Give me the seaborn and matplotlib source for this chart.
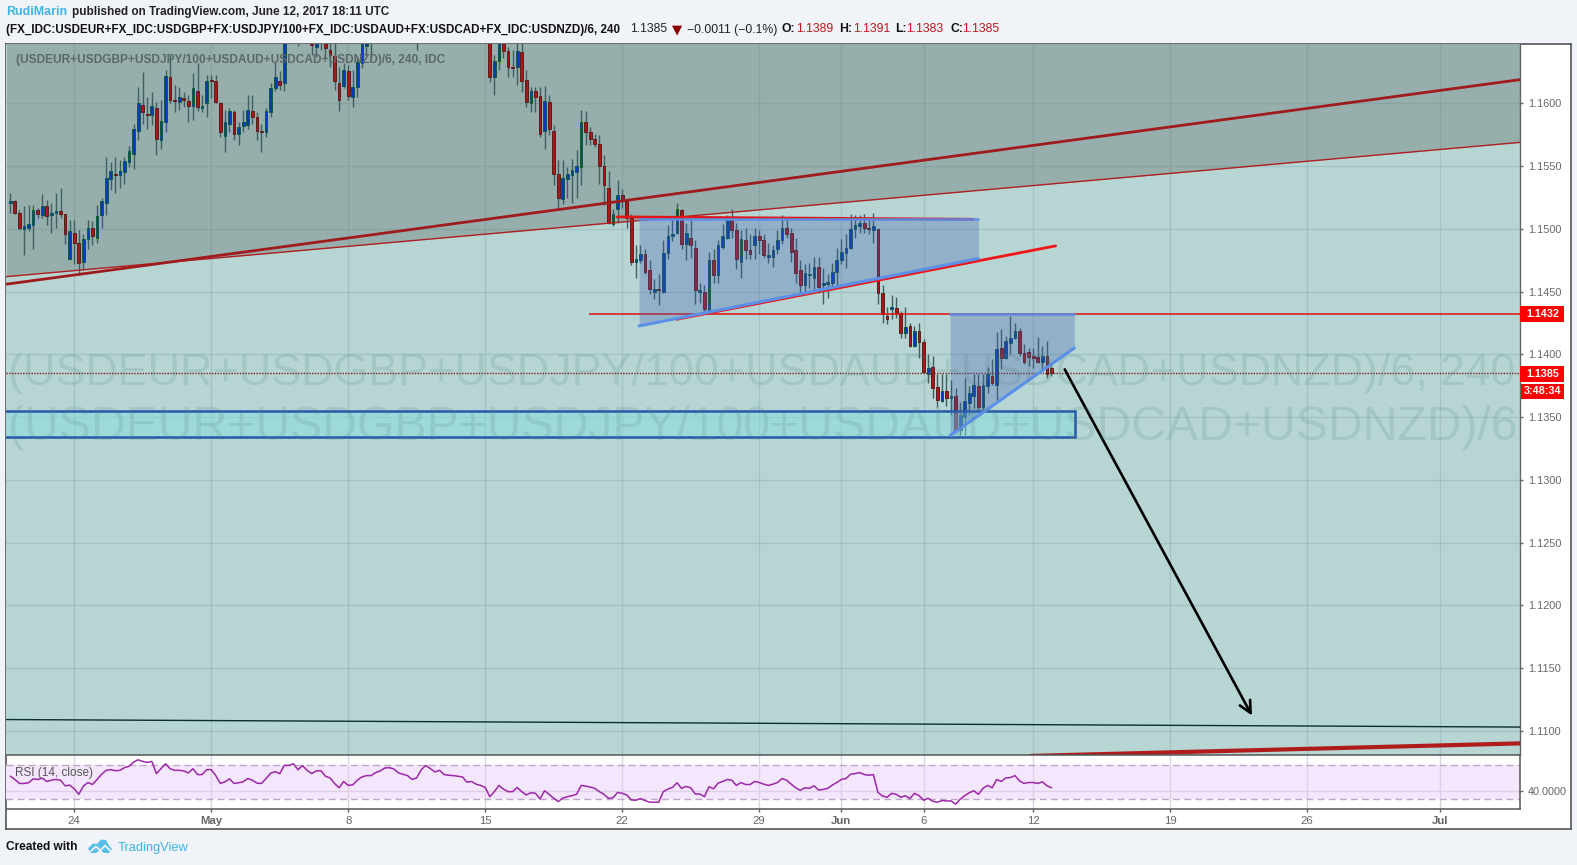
import numpy as np
import pandas as pd
import matplotlib
matplotlib.use("Agg")
import matplotlib.pyplot as plt
import seaborn as sns
from matplotlib.patches import Polygon, Rectangle

W, H = 1577, 865

# candles, 4h bars (bars 61-105 run above the top of the chart)
opens = [
    1.1521,1.1522,1.1513,1.1500,1.1501,1.1503,1.1515,1.1511,1.1518,1.1511,
    1.1513,1.1514,1.1512,1.1476,1.1497,1.1489,1.1474,1.1492,1.1501,1.1493,
    1.1511,1.1521,1.1540,1.1544,1.1543,1.1545,1.1553,1.1560,1.1578,1.1599,
    1.1592,1.1591,1.1596,1.1571,1.1585,1.1621,1.1603,1.1601,1.1604,1.1602,
    1.1598,1.1610,1.1596,1.1600,1.1619,1.1618,1.1600,1.1574,1.1584,1.1593,
    1.1576,1.1582,1.1583,1.1594,1.1589,1.1578,1.1577,1.1593,1.1612,1.1618,
    1.1616,1.1650,1.1665,1.1655,1.1662,1.1666,1.1660,1.1645,1.1655,1.1654,
    1.1643,1.1638,1.1616,1.1614,1.1626,1.1605,1.1613,1.1632,1.1646,1.1655,
    1.1650,1.1662,1.1670,1.1666,1.1674,1.1680,1.1676,1.1684,1.1678,1.1668,
    1.1660,1.1668,1.1676,1.1682,1.1678,1.1686,1.1692,1.1688,1.1684,1.1690,
    1.1686,1.1680,1.1684,1.1676,1.1670,1.1665,1.1621,1.1634,1.1655,1.1642,
    1.1629,1.1629,1.1641,1.1619,1.1600,1.1610,1.1606,1.1578,1.1601,1.1578,
    1.1544,1.1524,1.1540,1.1543,1.1545,1.1549,1.1585,1.1577,1.1572,1.1568,
    1.1550,1.1533,1.1504,1.1516,1.1527,1.1522,1.1509,1.1474,1.1475,1.1480,
    1.1467,1.1450,1.1452,1.1450,1.1481,1.1494,1.1497,1.1515,1.1488,1.1493,
    1.1485,1.1450,1.1450,1.1435,1.1475,1.1463,1.1486,1.1493,1.1507,1.1499,
    1.1474,1.1491,1.1483,1.1487,1.1494,1.1491,1.1478,1.1478,1.1484,1.1491,
    1.1501,1.1497,1.1483,1.1467,1.1455,1.1463,1.1461,1.1470,1.1455,1.1456,
    1.1457,1.1466,1.1475,1.1481,1.1485,1.1500,1.1502,1.1505,1.1501,1.1499,
    1.1500,1.1449,1.1431,1.1436,1.1437,1.1433,1.1417,1.1423,1.1407,1.1419,
    1.1410,1.1384,1.1390,1.1374,1.1363,1.1371,1.1365,1.1367,1.1340,1.1350,
    1.1361,1.1367,1.1375,1.1358,1.1375,1.1383,1.1376,1.1405,1.1397,1.1409,
    1.1413,1.1419,1.1401,1.1402,1.1399,1.1398,1.1394,1.1399,1.1389,
]
highs = [
    1.1529,1.1523,1.1515,1.1518,1.1519,1.1519,1.1517,1.1528,1.1523,1.1521,
    1.1529,1.1533,1.1512,1.1507,1.1507,1.1499,1.1496,1.1507,1.1506,1.1519,
    1.1525,1.1557,1.1553,1.1557,1.1555,1.1557,1.1566,1.1584,1.1613,1.1625,
    1.1605,1.1609,1.1601,1.1603,1.1627,1.1639,1.1615,1.1613,1.1609,1.1607,
    1.1624,1.1632,1.1607,1.1623,1.1623,1.1623,1.1601,1.1595,1.1596,1.1595,
    1.1585,1.1595,1.1607,1.1607,1.1593,1.1584,1.1596,1.1616,1.1633,1.1626,
    1.1660,1.1672,1.1672,1.1665,1.1670,1.1670,1.1665,1.1660,1.1660,1.1660,
    1.1650,1.1652,1.1629,1.1632,1.1631,1.1627,1.1637,1.1660,1.1660,1.1665,
    1.1668,1.1676,1.1678,1.1682,1.1688,1.1690,1.1692,1.1694,1.1688,1.1680,
    1.1674,1.1682,1.1688,1.1690,1.1692,1.1698,1.1700,1.1696,1.1698,1.1702,
    1.1694,1.1690,1.1688,1.1680,1.1675,1.1670,1.1639,1.1660,1.1660,1.1645,
    1.1643,1.1650,1.1648,1.1627,1.1613,1.1613,1.1613,1.1614,1.1607,1.1583,
    1.1555,1.1555,1.1549,1.1556,1.1563,1.1595,1.1594,1.1581,1.1576,1.1575,
    1.1559,1.1546,1.1516,1.1539,1.1532,1.1523,1.1512,1.1487,1.1487,1.1484,
    1.1475,1.1460,1.1464,1.1491,1.1503,1.1509,1.1521,1.1516,1.1505,1.1509,
    1.1491,1.1457,1.1455,1.1482,1.1484,1.1491,1.1504,1.1511,1.1516,1.1505,
    1.1499,1.1501,1.1496,1.1501,1.1499,1.1496,1.1489,1.1487,1.1499,1.1511,
    1.1508,1.1501,1.1493,1.1475,1.1472,1.1473,1.1478,1.1478,1.1469,1.1464,
    1.1473,1.1485,1.1492,1.1496,1.1512,1.1511,1.1511,1.1512,1.1508,1.1513,
    1.1501,1.1455,1.1438,1.1447,1.1446,1.1435,1.1438,1.1425,1.1423,1.1425,
    1.1412,1.1400,1.1399,1.1384,1.1384,1.1384,1.1380,1.1373,1.1362,1.1381,
    1.1375,1.1384,1.1384,1.1384,1.1390,1.1396,1.1418,1.1420,1.1415,1.1431,
    1.1425,1.1421,1.1408,1.1405,1.1405,1.1414,1.1407,1.1411,1.1391,
]
lows = [
    1.1513,1.1512,1.1499,1.1479,1.1498,1.1484,1.1509,1.1509,1.1503,1.1497,
    1.1501,1.1509,1.1488,1.1475,1.1472,1.1464,1.1467,1.1484,1.1487,1.1489,
    1.1501,1.1511,1.1531,1.1529,1.1533,1.1536,1.1549,1.1548,1.1571,1.1584,
    1.1580,1.1583,1.1559,1.1564,1.1577,1.1600,1.1593,1.1595,1.1597,1.1585,
    1.1587,1.1594,1.1593,1.1589,1.1604,1.1600,1.1573,1.1561,1.1577,1.1571,
    1.1567,1.1577,1.1580,1.1584,1.1571,1.1561,1.1573,1.1589,1.1610,1.1611,
    1.1610,1.1650,1.1652,1.1646,1.1655,1.1652,1.1639,1.1637,1.1643,1.1636,
    1.1629,1.1611,1.1594,1.1612,1.1603,1.1597,1.1605,1.1628,1.1639,1.1636,
    1.1649,1.1658,1.1660,1.1662,1.1670,1.1672,1.1670,1.1674,1.1664,1.1643,
    1.1654,1.1662,1.1670,1.1674,1.1672,1.1680,1.1684,1.1680,1.1678,1.1682,
    1.1672,1.1672,1.1668,1.1660,1.1658,1.1617,1.1607,1.1627,1.1636,1.1621,
    1.1621,1.1615,1.1609,1.1597,1.1593,1.1593,1.1573,1.1564,1.1575,1.1535,
    1.1517,1.1520,1.1525,1.1521,1.1525,1.1535,1.1567,1.1567,1.1565,1.1536,
    1.1519,1.1504,1.1502,1.1505,1.1517,1.1501,1.1471,1.1461,1.1473,1.1464,
    1.1448,1.1444,1.1439,1.1449,1.1476,1.1490,1.1496,1.1484,1.1475,1.1477,
    1.1440,1.1441,1.1434,1.1434,1.1457,1.1457,1.1484,1.1492,1.1493,1.1468,
    1.1461,1.1476,1.1476,1.1476,1.1480,1.1477,1.1473,1.1470,1.1480,1.1488,
    1.1493,1.1474,1.1457,1.1448,1.1449,1.1453,1.1451,1.1449,1.1440,1.1445,
    1.1453,1.1453,1.1472,1.1469,1.1484,1.1493,1.1497,1.1497,1.1496,1.1489,
    1.1440,1.1425,1.1424,1.1428,1.1429,1.1413,1.1413,1.1406,1.1406,1.1397,
    1.1385,1.1377,1.1365,1.1358,1.1362,1.1359,1.1352,1.1337,1.1336,1.1336,
    1.1352,1.1357,1.1356,1.1353,1.1369,1.1376,1.1364,1.1388,1.1396,1.1400,
    1.1412,1.1399,1.1392,1.1391,1.1389,1.1393,1.1387,1.1381,1.1383,
]
closes = [
    1.1522,1.1513,1.1501,1.1502,1.1504,1.1515,1.1512,1.1518,1.1510,1.1513,
    1.1514,1.1512,1.1496,1.1498,1.1489,1.1473,1.1492,1.1501,1.1494,1.1510,
    1.1522,1.1541,1.1546,1.1543,1.1546,1.1554,1.1562,1.1580,1.1600,1.1593,
    1.1591,1.1598,1.1572,1.1586,1.1622,1.1603,1.1602,1.1605,1.1603,1.1598,
    1.1612,1.1597,1.1598,1.1618,1.1618,1.1601,1.1577,1.1585,1.1594,1.1576,
    1.1581,1.1585,1.1595,1.1589,1.1578,1.1577,1.1594,1.1612,1.1621,1.1615,
    1.1650,1.1665,1.1660,1.1662,1.1666,1.1660,1.1647,1.1652,1.1650,1.1644,
    1.1639,1.1618,1.1603,1.1627,1.1606,1.1613,1.1633,1.1650,1.1652,1.1650,
    1.1662,1.1670,1.1666,1.1674,1.1680,1.1676,1.1684,1.1678,1.1668,1.1660,
    1.1668,1.1676,1.1682,1.1678,1.1686,1.1692,1.1688,1.1684,1.1690,1.1686,
    1.1680,1.1684,1.1676,1.1670,1.1665,1.1621,1.1634,1.1655,1.1642,1.1629,
    1.1628,1.1642,1.1618,1.1601,1.1610,1.1605,1.1576,1.1602,1.1580,1.1544,
    1.1525,1.1541,1.1544,1.1547,1.1550,1.1585,1.1577,1.1572,1.1568,1.1550,
    1.1535,1.1505,1.1512,1.1527,1.1524,1.1509,1.1474,1.1476,1.1480,1.1466,
    1.1452,1.1452,1.1451,1.1481,1.1494,1.1496,1.1516,1.1488,1.1497,1.1487,
    1.1451,1.1451,1.1436,1.1475,1.1463,1.1487,1.1494,1.1507,1.1499,1.1476,
    1.1492,1.1483,1.1480,1.1494,1.1491,1.1479,1.1479,1.1483,1.1491,1.1501,
    1.1496,1.1482,1.1465,1.1455,1.1465,1.1464,1.1470,1.1454,1.1457,1.1458,
    1.1466,1.1475,1.1482,1.1485,1.1500,1.1503,1.1505,1.1501,1.1500,1.1502,
    1.1449,1.1432,1.1428,1.1438,1.1433,1.1417,1.1422,1.1407,1.1419,1.1410,
    1.1386,1.1389,1.1373,1.1364,1.1371,1.1365,1.1367,1.1339,1.1352,1.1363,
    1.1369,1.1376,1.1358,1.1376,1.1384,1.1377,1.1404,1.1397,1.1411,1.1413,
    1.1419,1.1401,1.1394,1.1398,1.1397,1.1394,1.1399,1.1384,1.1385,
]

rsi_values = [
    56.7,52.9,48.3,48.3,49.1,53.6,52.9,54.4,50.6,52.1,52.9,52.1,45.6,46.4,42.2,35.7,45.2,49.4,47.1,52.9,
    59.0,63.5,64.3,63.1,63.5,66.6,68.1,73.0,75.7,73.8,72.7,73.8,59.7,65.4,71.1,65.4,63.5,63.5,62.8,60.5,
    65.4,58.6,58.6,64.3,64.3,57.4,48.3,50.2,53.6,48.3,49.1,50.2,54.0,52.1,48.7,48.3,54.0,60.1,62.0,59.7,
    69.2,69.2,71.1,64.3,68.9,63.5,59.7,62.8,63.1,56.7,54.8,48.3,43.3,50.6,46.0,46.8,52.1,55.9,57.4,57.4,
    60.9,62.8,66.2,66.6,65.1,60.5,59.0,57.4,52.9,54.8,64.3,69.2,65.4,61.6,63.5,58.6,57.8,57.4,56.7,55.9,
    49.8,50.6,47.5,46.0,43.7,33.0,38.8,46.0,41.8,38.8,38.8,43.7,38.8,35.0,37.6,
    36.9,30.4,39.9,35.7,31.1,27.3,31.5,33.0,34.2,35.7,46.0,45.2,44.1,42.6,38.8,35.7,31.1,31.9,38.0,36.9,
    35.0,29.2,28.9,30.8,28.5,26.6,26.6,26.6,38.8,41.8,43.7,49.1,42.6,44.9,43.3,36.1,36.1,33.0,44.5,42.2,
    48.7,50.6,52.9,52.1,46.0,49.4,47.1,47.1,50.6,49.4,47.5,46.0,47.5,49.4,54.0,52.1,47.5,43.3,40.3,43.3,
    42.6,45.6,40.7,41.4,42.6,46.4,49.4,52.9,54.0,59.0,59.7,60.9,58.6,57.8,58.6,38.0,33.8,32.3,36.9,35.7,
    32.3,34.2,30.8,36.9,34.2,28.9,31.1,27.7,26.6,28.5,28.1,28.1,24.3,30.0,34.2,37.6,39.9,35.7,42.6,46.0,
    43.3,52.9,50.6,54.8,55.1,57.4,51.3,48.3,49.4,49.4,48.3,50.2,45.6,43.3,
]

price_ticks = [1.11, 1.115, 1.12, 1.125, 1.13, 1.135, 1.14, 1.145, 1.15, 1.155, 1.16]
time_ticks = [14, 44, 74, 104, 134, 164, 182, 200, 224, 254, 284, 313]
time_labels = ["24", "May", "8", "15", "22", "29", "Jun", "6", "12", "19", "26", "Jul"]
month_labels = ["May", "Jun", "Jul"]

# drawn trend lines as (bar, price) pairs
channel_thin_x, channel_thin_y = [-0.83, 330.6], [1.1462, 1.1569]
channel_thick_x, channel_thick_y = [-0.83, 330.6], [1.1456, 1.1619]
floor_x, floor_y = [-0.83, 330.6], [1.1109, 1.1103]
low_channel_x, low_channel_y = [223.5, 330.6], [1.1080, 1.1090]
wedge_red_x, wedge_red_y = [145.9, 228.9], [1.1428, 1.14865]
top_red_x, top_red_y = [132.9, 210.8], [1.15096, 1.15077]
wedge1_x, wedge1_top, wedge1_low = [137.7, 212.0], [1.15083, 1.15083], [1.14227, 1.14764]
wedge2_x, wedge2_top, wedge2_low = [205.8, 233.0], [1.14325, 1.14325], [1.13353, 1.14051]
box_left, box_right, box_low, box_high = -5, 233.1, 1.13341, 1.13549
arrow_start, arrow_end = (230.9, 1.13881), (271.9, 1.11122)
resistance, resistance_from = 1.1432, 126.7
last_price = 1.1385

PAGE = "#f0f3f7"
TEAL = "#b6d5d3"
TEAL_DARK = "#96aeac"
BLUE = "#5b8fe8"
TV_BLUE = "#3fb4e6"
GRAY = "#666666"


def px_axes(fig, left, top, right, bottom, **kw):
    return fig.add_axes([left / W, 1 - bottom / H, (right - left) / W, (bottom - top) / H], **kw)


def fit_text(fig, s, left, y, width, fontsize=9, **kw):
    # scale the font until the string is as wide as in the picture
    t = fig.text(left / W, 1 - y / H, s, fontsize=fontsize, va="center", ha="left", **kw)
    w = t.get_window_extent(fig.canvas.get_renderer()).width
    t.set_fontsize(fontsize * width / w)
    return t


def label(fig, s, left, y, size=8.8, **kw):
    kw.setdefault("family", "Liberation Sans")
    return fig.text(left / W, 1 - y / H, s, fontsize=size, va="center", ha="left", **kw)


sns.set_theme(style="white")
plt.rcParams["font.family"] = ["Liberation Sans", "DejaVu Sans"]

fig = plt.figure(figsize=(W / 100, H / 100), dpi=100, facecolor=PAGE)

# white frame holding both panels and the scales
frame = px_axes(fig, 6.5, 43.5, 1570.5, 828.5, facecolor="white", xticks=[], yticks=[])
for s in frame.spines.values():
    s.set_color("#555555")
    s.set_linewidth(1.2)

ax = px_axes(fig, 6.5, 43.5, 1520, 755.3, facecolor=TEAL)
rsi_ax = px_axes(fig, 6.5, 755.3, 1520, 809.3, facecolor="none")
xlim = (-0.83, 330.6)

# main panel
ax.set_xlim(*xlim)
ax.set_ylim(1.10805, 1.16478)
x_line = np.array(channel_thin_x)
ax.fill_between(x_line, channel_thin_y, 1.17, color=TEAL_DARK, lw=0, zorder=1)
for t in time_ticks:
    ax.axvline(t, color="#4f7575", alpha=0.17, lw=1, zorder=2)
for p in price_ticks:
    ax.axhline(p, color="#4f7575", alpha=0.17, lw=1, zorder=2)

# watermark
fit_text(fig, "(USDEUR+USDGBP+USDJPY/100+USDAUD+USDCAD+USDNZD)/6, 240", 8, 373, 1514,
         color="#4f7f7f", alpha=0.17, zorder=3, family="Liberation Sans")
fit_text(fig, "(USDEUR+USDGBP+USDJPY/100+USDAUD+USDCAD+USDNZD)/6", 8, 428, 1516,
         color="#4f7f7f", alpha=0.17, zorder=3, family="Liberation Sans")

# candles
candles = pd.DataFrame({"o": opens, "h": highs, "l": lows, "c": closes})
candles["bar"] = np.arange(len(candles))
up = candles[candles["c"] >= candles["o"]]
down = candles[candles["c"] < candles["o"]]
ax.vlines(candles["bar"], candles["l"], candles["h"], color="#3f5f60", lw=1, zorder=4)
ax.bar(up["bar"], up["c"] - up["o"], bottom=up["o"], width=0.6, color="#0a38c0",
       edgecolor="#0d5a4a", lw=0.7, zorder=5)
ax.bar(down["bar"], down["o"] - down["c"], bottom=down["c"], width=0.6, color="#a81818",
       edgecolor="#5e1c1c", lw=0.7, zorder=5)

# trend lines
sns.lineplot(x=channel_thin_x, y=channel_thin_y, ax=ax, color="#b02020", lw=1, zorder=6)
sns.lineplot(x=channel_thick_x, y=channel_thick_y, ax=ax, color="#a01c1c", lw=2, zorder=6)
sns.lineplot(x=floor_x, y=floor_y, ax=ax, color="#0b2e2e", lw=1, zorder=6)
sns.lineplot(x=low_channel_x, y=low_channel_y, ax=ax, color="#b01c1c", lw=3, zorder=6)
ax.hlines(resistance, resistance_from, xlim[1], color="#e01010", lw=1.1, zorder=6)
ax.axhline(last_price, color="#7a1f1f", lw=1, ls=(0, (1, 1)), zorder=6)

# wedges and the support box
ax.add_patch(Rectangle((box_left, box_low), box_right - box_left, box_high - box_low,
                       facecolor="#7fe0e0", alpha=0.45, lw=0, zorder=6))
ax.add_patch(Rectangle((box_left, box_low), box_right - box_left, box_high - box_low,
                       facecolor="none", edgecolor="#2458aa", lw=1.8, zorder=7))
sns.lineplot(x=wedge_red_x, y=wedge_red_y, ax=ax, color="#f01515", lw=2, zorder=7)
sns.lineplot(x=top_red_x, y=top_red_y, ax=ax, color="#e01515", lw=2, zorder=7)
for xs, top, low in [(wedge1_x, wedge1_top, wedge1_low), (wedge2_x, wedge2_top, wedge2_low)]:
    ax.fill_between(xs, low, top, color="#415dae", alpha=0.3, lw=0, zorder=7)
    ax.plot(xs, top, color=BLUE, lw=2, alpha=0.85, zorder=8)
    ax.plot(xs, low, color=BLUE, lw=2.2, zorder=8)

ax.annotate("", xy=arrow_end, xytext=arrow_start, zorder=9,
            arrowprops=dict(arrowstyle="->,head_length=0.7,head_width=0.35", color="black",
                            lw=1.9, shrinkA=0, shrinkB=0))

ax.yaxis.tick_right()
ax.set_yticks(price_ticks, [f"{p:.4f}" for p in price_ticks])
ax.set_xticks([])
ax.tick_params(axis="y", length=2.2, width=1, color=GRAY, labelcolor=GRAY, labelsize=7.8, pad=3.4, right=True)
for s in ["top", "left", "bottom"]:
    ax.spines[s].set_visible(False)
ax.spines["right"].set_color("#666666")
ax.spines["right"].set_linewidth(1)
ax.set_xlabel("")
ax.set_ylabel("")
if ax.get_legend():
    ax.get_legend().remove()

# RSI panel
rsi_ax.set_xlim(*xlim)
rsi_ax.set_ylim(18.4, 80.9)
rsi_ax.axhspan(30, 70, color="#f4e6fc", lw=0, zorder=1)
for t in time_ticks:
    rsi_ax.axvline(t, color="#dcd2e2", lw=1, zorder=2)
rsi_ax.axhline(40, color="#dfcfe8", lw=1, zorder=2)
for level in [30, 70]:
    rsi_ax.axhline(level, color="#bba8c4", lw=1, ls=(0, (5, 3)), zorder=2)
sns.lineplot(x=np.arange(len(rsi_values)), y=rsi_values, ax=rsi_ax, color="#9c27a8", lw=1.1, zorder=3)
rsi_ax.yaxis.tick_right()
rsi_ax.set_yticks([40], ["40.0000"])
rsi_ax.set_xticks(time_ticks, time_labels)
rsi_ax.tick_params(axis="y", length=2.2, width=1, color=GRAY, labelcolor=GRAY, labelsize=7.8, pad=3.4, right=True)
rsi_ax.tick_params(axis="x", length=2.5, width=1, color=GRAY, labelcolor=GRAY, labelsize=8.2, pad=2.5, bottom=True)
for tick in rsi_ax.get_xticklabels():
    if tick.get_text() in month_labels:
        tick.set_fontweight("bold")
for s in ["left"]:
    rsi_ax.spines[s].set_visible(False)
for s in ["top", "bottom", "right"]:
    rsi_ax.spines[s].set_color("#555555")
    rsi_ax.spines[s].set_linewidth(1.1)
rsi_ax.set_xlabel("")
rsi_ax.set_ylabel("")

# labels inside the panels
fit_text(fig, "(USDEUR+USDGBP+USDJPY/100+USDAUD+USDCAD+USDNZD)/6, 240, IDC", 15.5, 60, 430,
         color="#5c6868", family="Liberation Sans", fontweight="bold", zorder=10)
fit_text(fig, "RSI (14, close)", 15, 773, 78, color="#555555", family="Liberation Sans", zorder=10)

# price boxes on the scale
for txt, top, bottom, left in [("1.1432", 306, 321.5, 1520), ("1.1385", 366, 381.5, 1520), ("3:48:34", 384, 398.5, 1521)]:
    fig.patches.append(Rectangle((left / W, 1 - bottom / H), (1564 - left) / W, (bottom - top) / H,
                                 transform=fig.transFigure, facecolor="#ff0000", lw=0, zorder=10))
    fig.text(1542.5 / W, 1 - (top + bottom) / 2 / H, txt, color="white", fontsize=7.8, fontweight="bold",
             ha="center", va="center", zorder=11)

# header
fit_text(fig, "RudiMarin", 6.5, 12, 61, color=TV_BLUE, family="Liberation Sans", fontweight="bold")
fit_text(fig, "published on TradingView.com, June 12, 2017 18:11 UTC", 71.5, 12, 317, color="#222222",
         family="Liberation Sans", fontweight="bold")
fit_text(fig, "(FX_IDC:USDEUR+FX_IDC:USDGBP+FX:USDJPY/100+FX_IDC:USDAUD+FX:USDCAD+FX_IDC:USDNZD)/6, 240",
         6.5, 29.5, 616, color="#111111", family="Liberation Sans", fontweight="bold")
label(fig, "1.1385", 630, 29.5, color="#222222")
fig.text(672 / W, 1 - 30 / H, "▼", color="#8b0000", fontsize=9.5, family="DejaVu Sans", va="center")
label(fig, "−0.0011 (−0.1%)", 687, 29.5, color="#222222")
for head, value, left_head, left_value in [("O:", "1.1389", 782, 796.5), ("H:", "1.1391", 839, 853),
                                           ("L:", "1.1383", 895.5, 906.5), ("C:", "1.1385", 950, 962)]:
    label(fig, head, left_head, 29.5, color="#111111", fontweight="bold")
    label(fig, value, left_value, 29.5, color="#c01818")

# footer with logo
fit_text(fig, "Created with", 6.5, 847.5, 71, color="#111111", family="Liberation Sans", fontweight="bold")
fit_text(fig, "TradingView", 118, 847.5, 71, color=TV_BLUE, family="Liberation Sans")
cloud = [(88, 848.5), (93, 843.5), (97, 844), (101, 839.5), (106, 840), (108, 844), (112, 849),
         (109, 853), (104, 853), (100, 849.5), (96, 853), (91, 853)]
zigzag = [(91, 851), (96, 846.5), (100.5, 850.5), (105, 845.5), (110, 850.5)]
fig.add_artist(Polygon([(a / W, 1 - b / H) for a, b in cloud], closed=True, transform=fig.transFigure,
                       facecolor="#55bfe8", lw=0))
fig.add_artist(plt.Line2D([a / W for a, b in zigzag], [1 - b / H for a, b in zigzag],
                          color=PAGE, lw=1.3, transform=fig.transFigure))

fig.savefig("out.png", dpi=100, facecolor=PAGE)
